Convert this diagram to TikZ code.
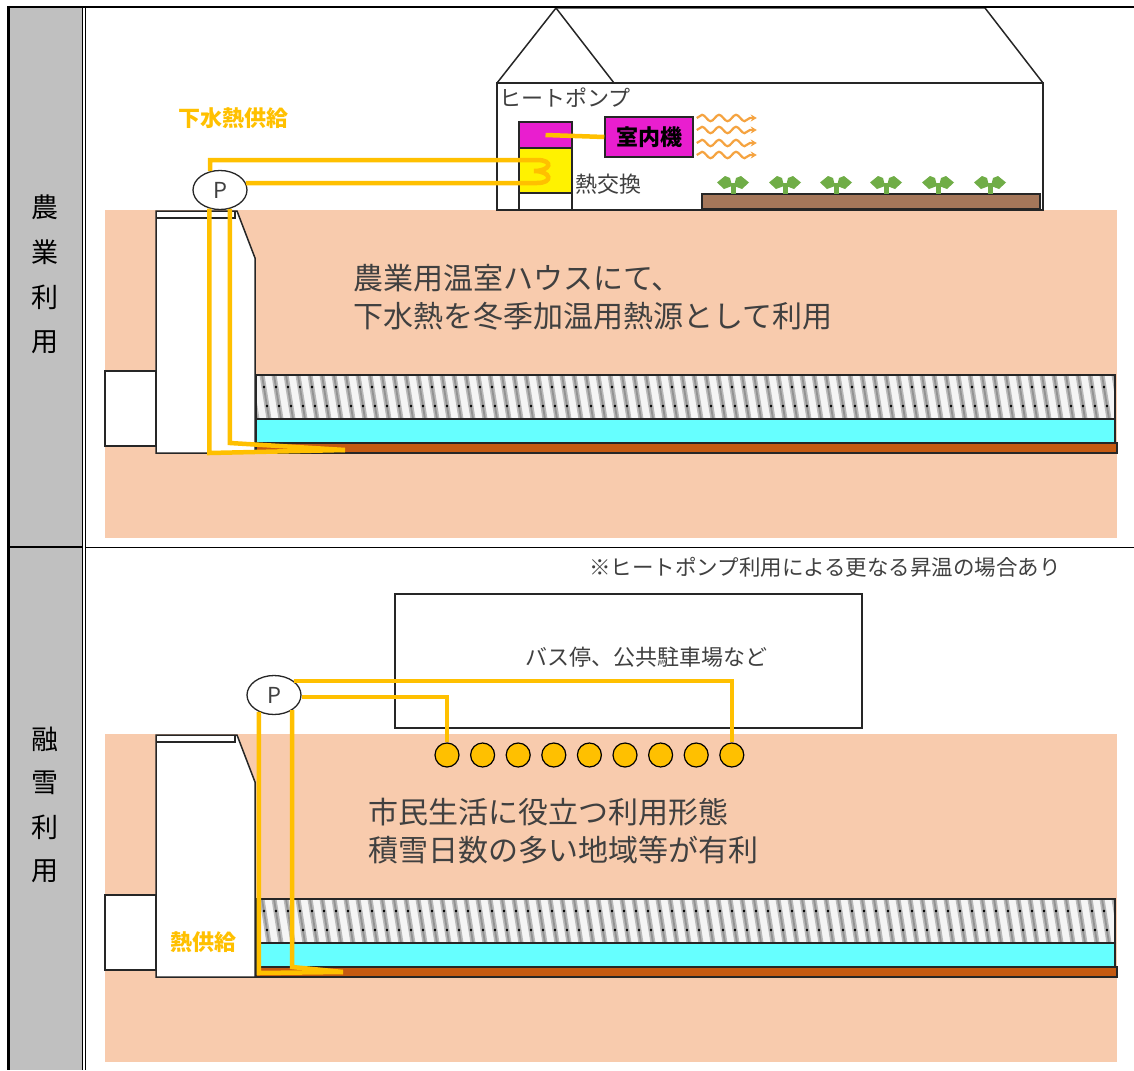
\documentclass[tikz,border=0pt]{standalone}
\usepackage{fontspec}
\newfontfamily\jpfont{Noto Sans CJK JP}
\usetikzlibrary{arrows.meta,shapes.geometric,decorations.pathmorphing,positioning}
\definecolor{Peach}{HTML}{F8CBAD}
\definecolor{PipeGold}{HTML}{FFC000}
\definecolor{Water}{HTML}{66FFFF}
\definecolor{Rust}{HTML}{C55A11}
\definecolor{HPMagenta}{HTML}{E91ECF}
\definecolor{Soil}{HTML}{A5775A}
\definecolor{Leaf}{HTML}{70AD47}
\definecolor{WarmAir}{HTML}{F5A340}
\definecolor{Ink}{HTML}{404040}
\definecolor{SideGray}{HTML}{C0C0C0}

\begin{document}
\begin{tikzpicture}[
  x=1pt,y=-1pt,
  outline/.style={draw=black!85,line width=1.5pt},
  pipe/.style={PipeGold,line width=4.5pt},
  txt/.style={font=\jpfont\fontsize{22}{26}\selectfont,text=Ink,inner sep=0pt},
  heading/.style={font=\jpfont\bfseries\fontsize{22}{26}\selectfont,text=PipeGold,inner sep=0pt},
  bigtext/.style={font=\jpfont\fontsize{30}{38}\selectfont,text=Ink,align=left,inner sep=0pt,anchor=west},
  sidechar/.style={font=\jpfont\fontsize{27}{27}\selectfont,inner sep=0pt},
  pump/.style={ellipse,draw=black!85,line width=1.3pt,fill=white,minimum width=54pt,minimum height=39pt,inner sep=0pt,font=\jpfont\fontsize{22}{22}\selectfont,text=Ink},
  unitbox/.style={draw=black!85,line width=1.5pt,inner sep=0pt},
  warm/.style={WarmAir,line width=2.2pt,decorate,decoration={snake,amplitude=3.2pt,segment length=17pt,post length=6pt},-{Stealth[length=6pt,width=7pt]}},
  ring/.style={circle,draw=black,line width=1.2pt,fill=PipeGold,minimum size=24pt,inner sep=0pt}
]
\useasboundingbox (0,0) rectangle (1134,1070);

% side column
\fill[SideGray] (10,7) rectangle (82,1070);
\foreach \c [count=\i] in {農,業,利,用}
  \node[sidechar] (agri\i) at (45,{162+45*\i}) {\c};
\foreach \c [count=\i] in {融,雪,利,用}
  \node[sidechar] (snow\i) at (45,{695+44*\i}) {\c};

% ---- greenhouse use ----
\begin{scope}
  \fill[Peach] (105,210) rectangle (1117,538);
  \draw[outline,fill=white] (105,371) rectangle (156,446);
  \draw[outline,fill=white] (156,453) -- (156,211) -- (237,211) -- (255,258) -- (255,453) -- cycle;
  \draw[outline] (156,218) -- (235,218) -- (235,211);
  \begin{scope}
    \clip (256,375) rectangle (1115,419);
    \fill[gray!8] (256,375) rectangle (1115,419);
    \foreach \x in {250,262,...,1122} {
      \draw[gray!55,line width=5pt] (\x,375) -- (\x+7,419);
      \draw[gray!85,line width=1.8pt] (\x,375) -- (\x+7,419);
      \fill[black] (\x+2,387) circle (1.3pt);
      \fill[black] (\x+5,406) circle (1.3pt);
    }
  \end{scope}
  \draw[outline] (256,375) rectangle (1115,419);
  \draw[outline,fill=Water] (256,419) rectangle (1115,443);
  \draw[outline,fill=Rust] (256,443) rectangle (1117,453);
\end{scope}

% house
\draw[outline,fill=white] (497,83) rectangle (1043,210);
\draw[outline] (497,83) -- (556,8) -- (614,83);
\draw[outline] (556,8) -- (985,8) -- (1043,83);
\node[txt,anchor=west] (hpLabel) at (499,98) {ヒートポンプ};
\node[unitbox,fill=HPMagenta,minimum width=53pt,minimum height=26pt] (hpTop) at (545.5,135) {};
\node[unitbox,fill=yellow,minimum width=53pt,minimum height=45pt] (hpCore) at (545.5,170.5) {};
\node[unitbox,fill=white,minimum width=53pt,minimum height=17pt] (hpBase) at (545.5,201.5) {};
\node[txt,anchor=west] (hxLabel) at (575,184) {熱交換};
\node[unitbox,fill=HPMagenta,minimum width=88pt,minimum height=40pt,font=\jpfont\bfseries\fontsize{22}{22}\selectfont] (indoor) at (649,137) {室内機};
\draw[pipe] (hpTop.center) -- (indoor.west);
\foreach \s in {19,7,-6,-18}
  \draw[warm] ([xshift=3pt,yshift=\s pt]indoor.east) -- ++(60,0);

% plant bed
\draw[outline,fill=Soil] (702,194) rectangle (1040,209);
\foreach \x in {733,785,836,886,938,990} {
  \fill[Leaf] (\x-2.5,183) rectangle (\x+2.5,194);
  \fill[Leaf] (\x-1,186) -- (\x-3,178) -- (\x-8,176) -- (\x-16,182.5) -- (\x-9,189) -- cycle;
  \fill[Leaf] (\x+1,186) -- (\x+3,178) -- (\x+8,176) -- (\x+16,182.5) -- (\x+9,189) -- cycle;
}

\node[heading] (supplyA) at (233,118) {下水熱供給};
\node[bigtext] (textA) at (353,297) {農業用温室ハウスにて、\\下水熱を冬季加温用熱源として利用};

% pump and pipes
\node[pump] (pumpA) at (220,190) {P};
\coordinate (coilInA) at (519,160);
\coordinate (coilEndA) at (537,183);
\coordinate (tipA) at (345,450);
\coordinate (floorA) at (0,453);
\coordinate (bendA) at (0,443);
\draw[pipe] (pumpA.118) |- (coilInA) -- ++(18,0)
  .. controls +(17,0) and +(17,0) .. ++(-3,11)
  .. controls +(17,0) and +(17,0) .. (coilEndA);
\draw[pipe] (pumpA.15) -- (coilEndA);
\draw[pipe] (pumpA.240) -- (pumpA.240 |- floorA) -- (tipA);
\draw[pipe] (pumpA.298) -- (pumpA.298 |- bendA) -- (tipA);

% ---- snow melting use ----
\begin{scope}[shift={(0,524)}]
  \fill[Peach] (105,210) rectangle (1117,538);
  \draw[outline,fill=white] (105,371) rectangle (156,446);
  \draw[outline,fill=white] (156,453) -- (156,211) -- (237,211) -- (255,258) -- (255,453) -- cycle;
  \draw[outline] (156,218) -- (235,218) -- (235,211);
  \begin{scope}
    \clip (256,375) rectangle (1115,419);
    \fill[gray!8] (256,375) rectangle (1115,419);
    \foreach \x in {250,262,...,1122} {
      \draw[gray!55,line width=5pt] (\x,375) -- (\x+7,419);
      \draw[gray!85,line width=1.8pt] (\x,375) -- (\x+7,419);
      \fill[black] (\x+2,387) circle (1.3pt);
      \fill[black] (\x+5,406) circle (1.3pt);
    }
  \end{scope}
  \draw[outline] (256,375) rectangle (1115,419);
  \draw[outline,fill=Water] (256,419) rectangle (1115,443);
  \draw[outline,fill=Rust] (256,443) rectangle (1117,453);
\end{scope}

\node[txt,font=\jpfont\fontsize{21.5}{24}\selectfont] (note) at (825,567) {※ヒートポンプ利用による更なる昇温の場合あり};
\draw[outline,fill=white] (395,594) rectangle (862,728);
\node[txt] (busLabel) at (646,657) {バス停、公共駐車場など};
\foreach \i in {1,...,9}
  \node[ring] (ring\i) at ({447+35.6*(\i-1)},755) {};

\node[heading] (supplyB) at (203,942) {熱供給};
\node[bigtext] (textB) at (368,831) {市民生活に役立つ利用形態\\積雪日数の多い地域等が有利};

\node[pump] (pumpB) at (274,695) {P};
\coordinate (tipB) at (343,972);
\coordinate (floorB) at (0,973);
\coordinate (bendB) at (0,967);
\draw[pipe] (pumpB.36) -| (ring9.north);
\draw[pipe] (pumpB.356) -| (ring1.north);
\draw[pipe] (pumpB.228) -- (pumpB.228 |- floorB) -- (tipB);
\draw[pipe] (pumpB.320) -- (pumpB.320 |- bendB) -- (tipB);

% frame lines
\draw[line width=3pt] (8.5,6) -- (8.5,1070);
\draw[line width=1.3pt] (82.5,7) -- (82.5,1070);
\draw[line width=1.3pt] (85.5,7) -- (85.5,1070);
\draw[line width=2pt] (7,7) -- (1134,7);
\draw[line width=2pt] (7,547) -- (82,547);
\draw[line width=1pt] (86,547) -- (1134,547);
\end{tikzpicture}
\end{document}
